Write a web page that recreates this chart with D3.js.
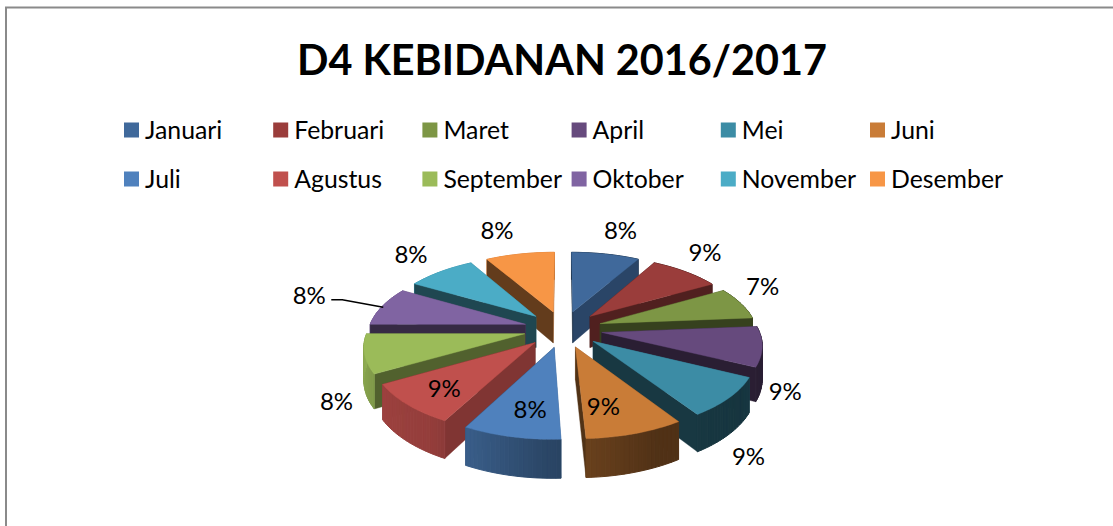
<!DOCTYPE html>
<html><head><meta charset="utf-8">
<script src="https://cdn.jsdelivr.net/npm/d3@7/dist/d3.min.js"></script>
<style>html,body{margin:0;padding:0;background:#fff}svg{display:block}text{font-family:Lato,"Noto Sans",sans-serif;fill:#000}</style>
</head><body><svg id="c" width="1113" height="526"></svg>
<script>
const months = ["Januari","Februari","Maret","April","Mei","Juni","Juli","Agustus","September","Oktober","November","Desember"];
const shares = [8.2,8.5,7.0,8.6,8.5,8.5,8.4,8.9,8.4,8.4,8.3,8.3];
const labels = ["8%","9%","7%","9%","9%","9%","8%","9%","8%","8%","8%","8%"];
const colors = ["#40699b","#9a3d3b","#7d9645","#664a7d","#3c8ca5","#c97c37","#4f81bd","#c0504d","#9bbb59","#8064a2","#4bacc6","#f79646"];
const labelNudgeX = [15,19.5,22,23,19,-32,19,37,-28,-73,-29.5,-23];
const labelNudgeY = [-24,-19,-17,45,59,-27,-27,-16,48,-11,-17,-24];
const titleText = "D4 KEBIDANAN 2016/2017";

const svg = d3.select("#c");
const W = 1113, H = 526;

// frame
svg.append("path").attr("d",`M${W},7.5H6V${H}`).attr("fill","none").attr("stroke","#8a8a8a").attr("stroke-width",2);

// title
svg.append("text").attr("x",562).attr("y",75).attr("text-anchor","middle")
  .attr("font-size",42).attr("font-weight",700)
  .attr("textLength",530).attr("lengthAdjust","spacingAndGlyphs").text(titleText);

// legend
const col = d3.scalePoint().domain(d3.range(6)).range([124,870]);
const row = d3.scalePoint().domain([0,1]).range([130,179]);
const legend = svg.append("g").selectAll("g").data(months).join("g")
  .attr("transform",(d,i)=>`translate(${col(i%6)},${row(Math.floor(i/6))})`);
legend.append("rect").attr("x",0).attr("y",-7.5).attr("width",15).attr("height",15).attr("fill",(d,i)=>colors[i]);
legend.append("text").attr("x",21).attr("y",8.5).attr("font-size",24.8).text(d=>d);

// 3D pie projection
const cx=563, cy=329, A=196, B=91, k=0.18, depth=32, R=0.8, ex=0.2;
function proj(X,Z,down){
  const s=1/(1-k*Z);
  return [cx+A*X*s, cy+B*Z*s+(down?depth*s:0)];
}
const arcs = d3.pie().sort(null).startAngle(0).endAngle(2*Math.PI)(shares);
const rimShade = d3.scaleLinear().domain([0,90,125,155,183,213,240,270,360]).range([.5,.45,.38,.4,.55,.77,.82,.92,.9]);
const wallShade = d3.scaleLinear().domain([0,90,120,150,180,240,270,360]).range([.7,.75,.66,.52,.42,.4,.4,.5]);
const deg = a=>a*180/Math.PI, rad = a=>a*Math.PI/180;
const shade=(c,f)=>{const q=d3.rgb(c);return d3.rgb(q.r*f,q.g*f,q.b*f).formatHex();};
const line=d3.line();

const slices = arcs.map((a,i)=>{
  const mid=(a.startAngle+a.endAngle)/2;
  const ox=ex*Math.sin(mid), oz=-ex*Math.cos(mid);
  const pt=t=>[ox+R*Math.sin(t), oz-R*Math.cos(t)];
  const n=Math.max(2,Math.ceil(deg(a.endAngle-a.startAngle)/1.5));
  const ts=d3.range(n+1).map(j=>a.startAngle+(a.endAngle-a.startAngle)*j/n);
  return {i,a,mid,ox,oz,pt,ts};
}).sort((p,q)=>(p.oz-R*.6*Math.cos(p.mid))-(q.oz-R*.6*Math.cos(q.mid)));

const pie=svg.append("g");
slices.forEach(s=>{
  const g=pie.append("g"), c=colors[s.i];
  const apex=[s.ox,s.oz];
  const e0=s.pt(s.ts[0]), e1=s.pt(s.ts[s.ts.length-1]);
  const nEnd=(deg(s.a.endAngle)+90)%360, nStart=(deg(s.a.startAngle)+270)%360;
  const faces=[
    {a:apex,b:e1,n:nEnd,f:wallShade(nEnd),w:.4},
    {a:apex,b:e0,n:nStart,f:wallShade(nStart),w:.4}
  ];
  d3.pairs(s.ts).forEach(([u,v])=>{
    const m=deg((u+v)/2);
    faces.push({a:s.pt(u),b:s.pt(v),n:m,f:rimShade(m),w:1});
  });
  // a convex prism: faces turned away from the viewer go first
  const front=f=>Math.cos(rad(f.n))<0?1:0;
  faces.sort((p,q)=>front(p)-front(q));
  faces.forEach(f=>{
    const col=shade(c,f.f);
    g.append("path").attr("d",line([proj(f.a[0],f.a[1],0),proj(f.b[0],f.b[1],0),proj(f.b[0],f.b[1],1),proj(f.a[0],f.a[1],1)])+"Z")
     .attr("fill",col).attr("stroke",col).attr("stroke-width",f.w);
  });
  const top=[proj(apex[0],apex[1],0)].concat(s.ts.map(t=>{const p=s.pt(t);return proj(p[0],p[1],0);}));
  g.append("path").attr("d",line(top)+"Z").attr("fill",c).attr("stroke",c).attr("stroke-width",.4);
});

// data labels
const labelBase=arcs.map(a=>{const m=(a.startAngle+a.endAngle)/2;return proj(Math.sin(m),-Math.cos(m),0);});
const lab=svg.append("g");
labels.forEach((t,i)=>{
  const x=labelBase[i][0]+labelNudgeX[i], y=labelBase[i][1]+labelNudgeY[i];
  lab.append("text").attr("x",x).attr("y",y+8.5).attr("text-anchor","middle").attr("font-size",24).text(t);
  if(months[i]==="Oktober"){
    lab.append("path").attr("d",`M${x+22},${y+4.5}h11L${labelBase[i][0]+1},${labelBase[i][1]+1}`)
      .attr("fill","none").attr("stroke","#000").attr("stroke-width",1.5);
  }
});
</script></body></html>
